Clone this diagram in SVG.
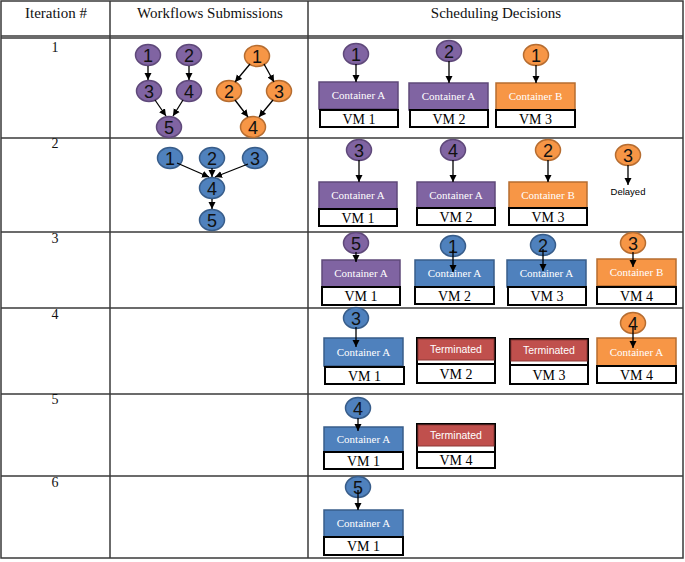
<svg xmlns="http://www.w3.org/2000/svg" width="685" height="562" viewBox="0 0 685 562">
<style>
.grid{stroke:#3a3a3a;stroke-width:1.5;fill:none}
.hdr{font-family:"Liberation Serif",serif;font-size:15px;fill:#111;text-anchor:middle}
.rn{font-family:"Liberation Serif",serif;font-size:14px;fill:#111;text-anchor:middle}
.num{font-family:"Liberation Sans",sans-serif;font-size:18px;fill:#111;text-anchor:middle}
.p{fill:#8064A2;stroke:#5F497A;stroke-width:1.5}
.o{fill:#F79646;stroke:#B66D31;stroke-width:1.5}
.b{fill:#4F81BD;stroke:#385D8A;stroke-width:1.5}
.r{fill:#C0504D;stroke:#8C3836;stroke-width:1}
.vm{fill:#fff;stroke:#000;stroke-width:2}
.vmt{font-family:"Liberation Serif",serif;font-size:14px;fill:#000;text-anchor:middle}
.ct{font-family:"Liberation Serif",serif;font-size:11px;fill:#fff;text-anchor:middle}
.tt{font-family:"Liberation Sans",sans-serif;font-size:10.5px;fill:#fff;text-anchor:middle}
.dt{font-family:"Liberation Sans",sans-serif;font-size:9.5px;fill:#000;text-anchor:middle}
.ar{stroke:#000;stroke-width:1.3;fill:none;marker-end:url(#ah)}
</style>
<defs>
<marker id="ah" markerUnits="userSpaceOnUse" markerWidth="8" markerHeight="8" refX="7" refY="4" orient="auto">
<path d="M0,0.5 L7,4 L0,7.5 z" fill="#000"/>
</marker>
</defs>
<rect width="685" height="562" fill="#fff"/>
<g id="table">
<rect class="grid" x="1" y="1" width="682" height="557"/>
<line class="grid" x1="110" y1="1" x2="110" y2="558"/>
<line class="grid" x1="308" y1="1" x2="308" y2="558"/>
<line class="grid" x1="1" y1="36" x2="683" y2="36"/>
<line class="grid" x1="1" y1="38" x2="683" y2="38"/>
<line class="grid" x1="1" y1="138" x2="683" y2="138"/>
<line class="grid" x1="1" y1="232" x2="683" y2="232"/>
<line class="grid" x1="1" y1="308" x2="683" y2="308"/>
<line class="grid" x1="1" y1="394" x2="683" y2="394"/>
<line class="grid" x1="1" y1="476" x2="683" y2="476"/>
<text class="hdr" x="56" y="18">Iteration #</text>
<text class="hdr" x="210" y="18">Workflows Submissions</text>
<text class="hdr" x="496" y="18">Scheduling Decisions</text>
<text class="rn" x="55" y="52">1</text>
<text class="rn" x="55" y="148">2</text>
<text class="rn" x="55" y="243">3</text>
<text class="rn" x="55" y="319">4</text>
<text class="rn" x="55" y="404">5</text>
<text class="rn" x="55" y="487">6</text>
</g>
<g id="wf1-p1"><ellipse class="p" cx="148" cy="55" rx="12.5" ry="10.5"/><text class="num" x="148" y="61.5">1</text></g>
<g id="wf1-p2"><ellipse class="p" cx="189" cy="55" rx="12.5" ry="10.5"/><text class="num" x="189" y="61.5">2</text></g>
<g id="wf1-p3"><ellipse class="p" cx="149" cy="91" rx="12.5" ry="10.5"/><text class="num" x="149" y="97.5">3</text></g>
<g id="wf1-p4"><ellipse class="p" cx="189" cy="91" rx="12.5" ry="10.5"/><text class="num" x="189" y="97.5">4</text></g>
<g id="wf1-p5"><ellipse class="p" cx="169" cy="127" rx="12.5" ry="10.5"/><text class="num" x="169" y="133.5">5</text></g>
<g id="wf1-o1"><ellipse class="o" cx="257" cy="56" rx="12.5" ry="10.5"/><text class="num" x="257" y="62.5">1</text></g>
<g id="wf1-o2"><ellipse class="o" cx="229" cy="91" rx="12.5" ry="10.5"/><text class="num" x="229" y="97.5">2</text></g>
<g id="wf1-o3"><ellipse class="o" cx="279" cy="91" rx="12.5" ry="10.5"/><text class="num" x="279" y="97.5">3</text></g>
<g id="wf1-o4"><ellipse class="o" cx="253" cy="127" rx="12.5" ry="10.5"/><text class="num" x="253" y="133.5">4</text></g>
<g id="wf2-b1"><ellipse class="b" cx="170" cy="158" rx="12.5" ry="10.5"/><text class="num" x="170" y="164.5">1</text></g>
<g id="wf2-b2"><ellipse class="b" cx="212" cy="158" rx="12.5" ry="10.5"/><text class="num" x="212" y="164.5">2</text></g>
<g id="wf2-b3"><ellipse class="b" cx="255" cy="158" rx="12.5" ry="10.5"/><text class="num" x="255" y="164.5">3</text></g>
<g id="wf2-b4"><ellipse class="b" cx="212" cy="188" rx="12.5" ry="10.5"/><text class="num" x="212" y="194.5">4</text></g>
<g id="wf2-b5"><ellipse class="b" cx="212" cy="220" rx="12.5" ry="10.5"/><text class="num" x="212" y="226.5">5</text></g>
<g id="r1-vm1"><rect class="p" x="319" y="82" width="79" height="27"/><text class="ct" x="358.5" y="99">Container A</text><rect class="vm" x="320" y="110" width="78" height="17"/><text class="vmt" x="359" y="123.5">VM 1</text></g>
<g id="r1-vm2"><rect class="p" x="409" y="83" width="79" height="27"/><text class="ct" x="448.5" y="100">Container A</text><rect class="vm" x="410" y="110" width="78" height="17"/><text class="vmt" x="449" y="123.5">VM 2</text></g>
<g id="r1-vm3"><rect class="o" x="496" y="83" width="79" height="27"/><text class="ct" x="535.5" y="100">Container B</text><rect class="vm" x="496" y="110" width="79" height="17"/><text class="vmt" x="535.5" y="123.5">VM 3</text></g>
<g id="r1-t1"><ellipse class="p" cx="356" cy="54" rx="12.5" ry="10.5"/><text class="num" x="356" y="60.5">1</text></g>
<g id="r1-t2"><ellipse class="p" cx="449" cy="51" rx="12.5" ry="10.5"/><text class="num" x="449" y="57.5">2</text></g>
<g id="r1-t3"><ellipse class="o" cx="536" cy="55" rx="12.5" ry="10.5"/><text class="num" x="536" y="61.5">1</text></g>
<g id="r2-vm1"><rect class="p" x="319" y="182" width="78" height="27"/><text class="ct" x="358" y="199">Container A</text><rect class="vm" x="319" y="209" width="78" height="17"/><text class="vmt" x="358" y="222.5">VM 1</text></g>
<g id="r2-vm2"><rect class="p" x="417" y="182" width="78" height="26"/><text class="ct" x="456" y="198.5">Container A</text><rect class="vm" x="417" y="208" width="78" height="17"/><text class="vmt" x="456" y="221.5">VM 2</text></g>
<g id="r2-vm3"><rect class="o" x="509" y="182" width="78" height="26"/><text class="ct" x="548" y="198.5">Container B</text><rect class="vm" x="509" y="208" width="78" height="17"/><text class="vmt" x="548" y="221.5">VM 3</text></g>
<g id="r2-t1"><ellipse class="p" cx="359" cy="150" rx="12.5" ry="10.5"/><text class="num" x="359" y="156.5">3</text></g>
<g id="r2-t2"><ellipse class="p" cx="453" cy="150" rx="12.5" ry="10.5"/><text class="num" x="453" y="156.5">4</text></g>
<g id="r2-t3"><ellipse class="o" cx="548" cy="150" rx="12.5" ry="10.5"/><text class="num" x="548" y="156.5">2</text></g>
<g id="r2-t4"><ellipse class="o" cx="628" cy="155" rx="12.5" ry="10.5"/><text class="num" x="628" y="161.5">3</text><text class="dt" x="628" y="195">Delayed</text></g>
<g id="r3-vm1"><rect class="p" x="322" y="260" width="78" height="27"/><text class="ct" x="361" y="277">Container A</text><rect class="vm" x="322" y="287" width="78" height="18"/><text class="vmt" x="361" y="301">VM 1</text></g>
<g id="r3-vm2"><rect class="b" x="415" y="260" width="79" height="27"/><text class="ct" x="454.5" y="277">Container A</text><rect class="vm" x="415" y="287" width="79" height="17"/><text class="vmt" x="454.5" y="300.5">VM 2</text></g>
<g id="r3-vm3"><rect class="b" x="507" y="260" width="79" height="27"/><text class="ct" x="546.5" y="277">Container A</text><rect class="vm" x="508" y="287" width="78" height="18"/><text class="vmt" x="547" y="301">VM 3</text></g>
<g id="r3-vm4"><rect class="o" x="597" y="259" width="79" height="27"/><text class="ct" x="636.5" y="276">Container B</text><rect class="vm" x="597" y="287" width="79" height="17"/><text class="vmt" x="636.5" y="300.5">VM 4</text></g>
<g id="r3-t1"><ellipse class="p" cx="356" cy="243" rx="12.5" ry="10.5"/><text class="num" x="356" y="249.5">5</text></g>
<g id="r3-t2"><ellipse class="b" cx="453" cy="246" rx="12.5" ry="10.5"/><text class="num" x="453" y="252.5">1</text></g>
<g id="r3-t3"><ellipse class="b" cx="543" cy="245" rx="12.5" ry="10.5"/><text class="num" x="543" y="251.5">2</text></g>
<g id="r3-t4"><ellipse class="o" cx="633" cy="243" rx="12.5" ry="10.5"/><text class="num" x="633" y="249.5">3</text></g>
<g id="r4-vm1"><rect class="b" x="324" y="338" width="79" height="28"/><text class="ct" x="363.5" y="356">Container A</text><rect class="vm" x="325" y="367" width="79" height="17"/><text class="vmt" x="364.5" y="380.5">VM 1</text></g>
<g id="r4-vm2"><rect class="vm" x="417" y="338" width="78" height="26"/><rect class="r" x="418" y="339" width="76" height="21"/><text class="tt" x="456" y="353">Terminated</text><rect class="vm" x="417" y="364" width="78" height="19"/><text class="vmt" x="456" y="378.5">VM 2</text></g>
<g id="r4-vm3"><rect class="vm" x="510" y="339" width="78" height="26"/><rect class="r" x="511" y="340" width="76" height="21"/><text class="tt" x="549" y="354">Terminated</text><rect class="vm" x="510" y="365" width="78" height="19"/><text class="vmt" x="549" y="379.5">VM 3</text></g>
<g id="r4-vm4"><rect class="o" x="597" y="338" width="79" height="28"/><text class="ct" x="636.5" y="356">Container A</text><rect class="vm" x="597" y="366" width="79" height="17"/><text class="vmt" x="636.5" y="379.5">VM 4</text></g>
<g id="r4-t1"><ellipse class="b" cx="356" cy="318" rx="12.5" ry="10.5"/><text class="num" x="356" y="324.5">3</text></g>
<g id="r4-t2"><ellipse class="o" cx="633" cy="323" rx="12.5" ry="10.5"/><text class="num" x="633" y="329.5">4</text></g>
<g id="r5-vm1"><rect class="b" x="324" y="427" width="79" height="25"/><text class="ct" x="363.5" y="443">Container A</text><rect class="vm" x="324" y="452" width="79" height="17"/><text class="vmt" x="363.5" y="465.5">VM 1</text></g>
<g id="r5-vm4"><rect class="vm" x="417" y="424" width="78" height="28"/><rect class="r" x="418" y="425" width="76" height="21"/><text class="tt" x="456" y="439">Terminated</text><rect class="vm" x="417" y="452" width="78" height="16"/><text class="vmt" x="456" y="465">VM 4</text></g>
<g id="r5-t1"><ellipse class="b" cx="358" cy="408" rx="12.5" ry="10.5"/><text class="num" x="358" y="414.5">4</text></g>
<g id="r6-vm1"><rect class="b" x="324" y="510" width="79" height="27"/><text class="ct" x="363.5" y="527">Container A</text><rect class="vm" x="324" y="537" width="79" height="18"/><text class="vmt" x="363.5" y="551">VM 1</text></g>
<g id="r6-t1"><ellipse class="b" cx="358" cy="487" rx="12.5" ry="10.5"/><text class="num" x="358" y="493.5">5</text></g>
<g id="connectors">
<line class="ar" x1="148" y1="66" x2="148" y2="80"/>
<line class="ar" x1="189" y1="66" x2="189" y2="80"/>
<line class="ar" x1="155" y1="100" x2="166" y2="116"/>
<line class="ar" x1="183" y1="100" x2="173" y2="116"/>
<line class="ar" x1="250" y1="64" x2="235" y2="82"/>
<line class="ar" x1="264" y1="64" x2="274" y2="82"/>
<line class="ar" x1="235" y1="100" x2="248" y2="117"/>
<line class="ar" x1="273" y1="100" x2="259" y2="117"/>
<line class="ar" x1="177" y1="163" x2="209" y2="177"/>
<line class="ar" x1="212" y1="168" x2="212" y2="177"/>
<line class="ar" x1="248" y1="164" x2="215" y2="177"/>
<line class="ar" x1="212" y1="199" x2="212" y2="209"/>
<line class="ar" x1="356" y1="64" x2="356" y2="82"/>
<line class="ar" x1="449" y1="61" x2="449" y2="83"/>
<line class="ar" x1="536" y1="65" x2="536" y2="83"/>
<line class="ar" x1="359" y1="160" x2="359" y2="182"/>
<line class="ar" x1="453" y1="160" x2="453" y2="182"/>
<line class="ar" x1="548" y1="160" x2="548" y2="182"/>
<line class="ar" x1="628" y1="165" x2="628" y2="185"/>
<line class="ar" x1="356" y1="252" x2="356" y2="262"/>
<line class="ar" x1="453" y1="250" x2="453" y2="272"/>
<line class="ar" x1="543" y1="249" x2="543" y2="271"/>
<line class="ar" x1="633" y1="252" x2="633" y2="267"/>
<line class="ar" x1="356" y1="327" x2="356" y2="347"/>
<line class="ar" x1="633" y1="326" x2="633" y2="348"/>
<line class="ar" x1="358" y1="418" x2="358" y2="431"/>
<line class="ar" x1="358" y1="490" x2="358" y2="510"/>
</g>
</svg>
